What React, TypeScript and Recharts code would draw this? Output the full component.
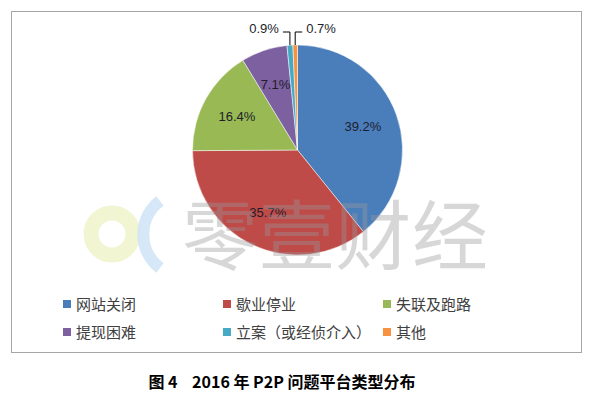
import { Cell, Legend, Pie, PieChart } from "recharts";

const categories = ["网站关闭", "歇业停业", "失联及跑路", "提现困难", "立案（或经侦介入）", "其他"];
const shares = [39.2, 35.7, 16.4, 7.1, 0.9, 0.7];
const colors = ["#4a7ebb", "#be4b48", "#98b954", "#7d60a0", "#46aac5", "#f69240"];

const data = categories.map((name, i) => ({ name, value: shares[i] }));

const RADIAN = Math.PI / 180;
const labelFont = "'Liberation Sans', Arial, sans-serif";
const cjkFont = "'Noto Sans CJK SC', sans-serif";

function renderLabel(props: any) {
  const { cx, cy, midAngle, outerRadius, index, value } = props;
  const cos = Math.cos(-midAngle * RADIAN);
  const sin = Math.sin(-midAngle * RADIAN);
  const text = `${value.toFixed(1)}%`;

  if (value >= 2) {
    const r = outerRadius * 0.66;
    return (
      <text
        x={cx + r * cos}
        y={cy + r * sin}
        textAnchor="middle"
        dominantBaseline="central"
        fill="#1d1d2b"
        fontSize={13}
        fontFamily={labelFont}
      >
        {text}
      </text>
    );
  }

  // small slices: leader line up, then sideways (last one to the right)
  const next = shares[index + 1];
  const dir = next !== undefined && next < 2 ? -1 : 1;
  const x0 = cx + outerRadius * cos;
  const y0 = cy + outerRadius * sin;
  const y1 = cy - outerRadius - 13;
  const x2 = x0 + dir * 7;
  return (
    <g key={`lbl-${index}`}>
      <polyline points={`${x0},${y0} ${x0},${y1} ${x2},${y1}`} fill="none" stroke="#000" strokeWidth={1} />
      <text
        x={x2 + dir * 4}
        y={y1 + 1}
        textAnchor={dir < 0 ? "end" : "start"}
        fill="#1d1d2b"
        fontSize={13}
        fontFamily={labelFont}
      >
        {text}
      </text>
    </g>
  );
}

function LegendContent() {
  return (
    <div style={{ display: "grid", gridTemplateColumns: "160px 160px 160px", rowGap: 9 }}>
      {categories.map((name, i) => (
        <div key={name} style={{ display: "flex", alignItems: "center", height: 19 }}>
          <span style={{ width: 8, height: 8, background: colors[i], marginRight: 5 }} />
          <span style={{ fontFamily: cjkFont, fontSize: 15, color: "#404040", whiteSpace: "nowrap" }}>{name}</span>
        </div>
      ))}
    </div>
  );
}

export default function App() {
  return (
    <div style={{ position: "absolute", left: 0, top: 0, width: 592, height: 393, background: "#fff" }}>
      <div
        style={{
          position: "absolute",
          left: 11,
          top: 11,
          width: 569,
          height: 340,
          border: "1.5px solid #a6a6a6",
        }}
      />
      <PieChart
        width={592}
        height={355}
        margin={{ top: 0, right: 0, bottom: 0, left: 0 }}
        style={{ position: "absolute", left: 0, top: 0 }}
      >
        <Pie
          data={data}
          dataKey="value"
          nameKey="name"
          cx={297.5}
          cy={150}
          outerRadius={105}
          startAngle={90}
          endAngle={-270}
          stroke="#ffffff"
          strokeWidth={0.5}
          label={renderLabel}
          labelLine={false}
          isAnimationActive={false}
        >
          {data.map((d, i) => (
            <Cell key={d.name} fill={colors[i]} />
          ))}
        </Pie>
        <Legend
          content={<LegendContent />}
          wrapperStyle={{ position: "absolute", left: 63, top: 294, width: 500 }}
        />
      </PieChart>
      {/* faint watermark */}
      <svg width={592} height={393} style={{ position: "absolute", left: 0, top: 0, pointerEvents: "none" }}>
        <circle cx={112} cy={234} r={21} fill="none" stroke="#eef3c9" strokeWidth={15} opacity={0.85} />
        <path d="M 160 201 A 42 42 0 0 0 160 268" fill="none" stroke="#cfe3f7" strokeWidth={12} opacity={0.85} />
        <text
          x={182}
          y={264}
          fontFamily={cjkFont}
          fontSize={76}
          textLength={306}
          lengthAdjust="spacing"
          fill="#999"
          opacity={0.38}
        >
          零壹财经
        </text>
      </svg>
      <div
        style={{
          position: "absolute",
          left: 0,
          top: 369,
          width: 564,
          textAlign: "center",
          fontFamily: cjkFont,
          fontWeight: 700,
          fontSize: 16,
          color: "#000",
          whiteSpace: "pre",
        }}
      >
        {"图 4    2016 年 P2P 问题平台类型分布"}
      </div>
    </div>
  );
}
